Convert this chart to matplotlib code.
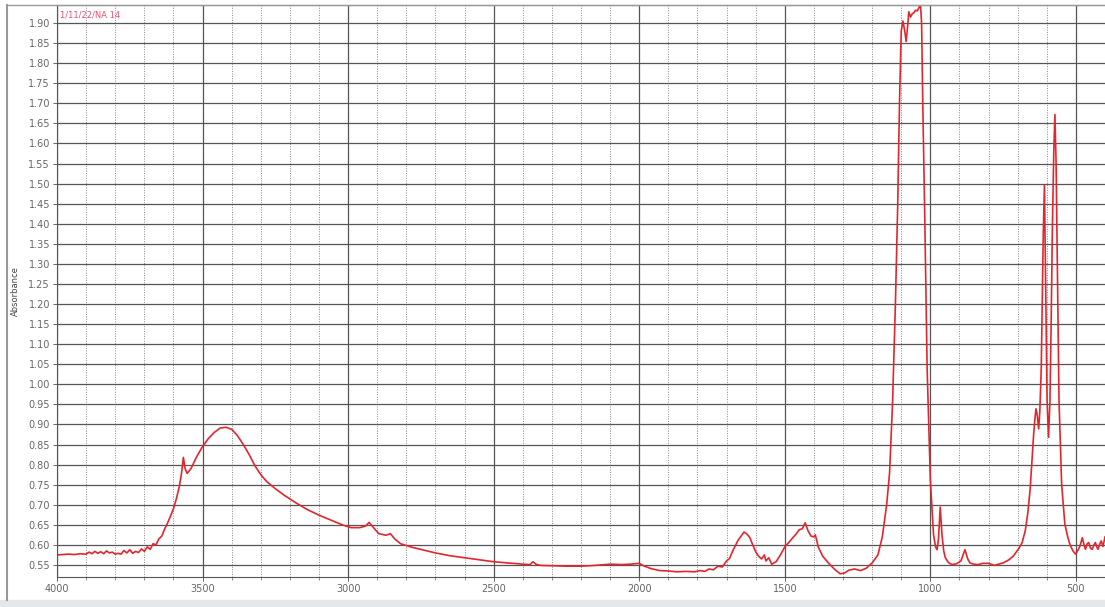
import numpy as np
import matplotlib.pyplot as plt
from matplotlib.ticker import MultipleLocator, FormatStrFormatter
from matplotlib.lines import Line2D

# FTIR spectrum, absorbance vs wavenumber (cm-1)
wavenumber = [
    4000, 3980, 3960, 3940, 3920, 3900, 3890, 3880, 3870, 3860, 3850, 3840,
    3830, 3820, 3810, 3800, 3790, 3780, 3770, 3760, 3750, 3740, 3730, 3720,
    3710, 3700, 3690, 3680, 3670, 3660, 3650, 3640, 3630, 3620, 3610, 3600,
    3590, 3580, 3572, 3566, 3560, 3553, 3540, 3520, 3500, 3480, 3460, 3440,
    3420, 3400, 3380, 3360, 3340, 3320, 3300, 3280, 3250, 3220, 3180, 3140,
    3100, 3060, 3020, 2990, 2960, 2940, 2928, 2915, 2895, 2870, 2855, 2840,
    2820, 2780, 2740, 2700, 2650, 2600, 2550, 2500, 2450, 2400, 2375, 2365,
    2355, 2340, 2300, 2250, 2200, 2150, 2100, 2060, 2030, 2000, 1985, 1960,
    1930, 1900, 1870, 1840, 1810, 1790, 1775, 1760, 1745, 1730, 1715, 1700,
    1690, 1680, 1670, 1660, 1650, 1640, 1630, 1620, 1610, 1600, 1590, 1580,
    1570, 1565, 1555, 1545, 1530, 1515, 1500, 1485, 1470, 1460, 1450, 1440,
    1430, 1420, 1410, 1400, 1395, 1385, 1370, 1350, 1330, 1310, 1295, 1280,
    1260, 1240, 1220, 1200, 1180, 1165, 1150, 1140, 1130, 1120, 1112, 1106,
    1100, 1094, 1088, 1083, 1077, 1074, 1068, 1062, 1056, 1051, 1045, 1040,
    1034, 1030, 1026, 1019, 1011, 1000, 989, 982, 977, 972, 966, 960,
    954, 949, 938, 926, 910, 895, 881, 872, 864, 850, 836, 820,
    800, 780, 766, 750, 732, 715, 697, 685, 674, 665, 657, 650,
    645, 640, 637, 633, 628, 624, 619, 612, 608, 603, 599, 594,
    589, 585, 581, 576, 572, 568, 565, 558, 549, 538, 528, 520,
    510, 501, 492, 486, 478, 472, 467, 461, 456, 450, 444, 438,
    433, 428, 424, 418, 413, 407, 400,
]
absorbance = [
    0.575, 0.576, 0.577, 0.576, 0.578, 0.577, 0.582, 0.578, 0.584, 0.579, 0.583, 0.578,
    0.585, 0.580, 0.582, 0.577, 0.579, 0.577, 0.586, 0.580, 0.588, 0.579, 0.584, 0.581,
    0.590, 0.584, 0.595, 0.589, 0.603, 0.600, 0.615, 0.622, 0.640, 0.655, 0.672, 0.690,
    0.715, 0.745, 0.780, 0.818, 0.790, 0.778, 0.790, 0.820, 0.845, 0.865, 0.880, 0.891,
    0.893, 0.888, 0.872, 0.850, 0.825, 0.797, 0.775, 0.758, 0.740, 0.724, 0.705, 0.688,
    0.674, 0.662, 0.650, 0.643, 0.643, 0.647, 0.656, 0.645, 0.628, 0.624, 0.628, 0.615,
    0.603, 0.594, 0.587, 0.580, 0.573, 0.568, 0.563, 0.558, 0.555, 0.552, 0.551, 0.558,
    0.552, 0.549, 0.548, 0.547, 0.547, 0.549, 0.552, 0.551, 0.552, 0.554, 0.548, 0.541,
    0.536, 0.535, 0.533, 0.534, 0.533, 0.536, 0.534, 0.540, 0.538, 0.547, 0.545, 0.560,
    0.566, 0.583, 0.598, 0.612, 0.622, 0.632, 0.627, 0.618, 0.600, 0.583, 0.572, 0.565,
    0.575, 0.560, 0.568, 0.552, 0.558, 0.575, 0.595, 0.607, 0.620, 0.628, 0.638, 0.640,
    0.655, 0.635, 0.622, 0.620, 0.625, 0.595, 0.572, 0.555, 0.540, 0.528, 0.530, 0.537,
    0.540, 0.536, 0.542, 0.555, 0.575, 0.620, 0.700, 0.780, 0.950, 1.200, 1.450, 1.700,
    1.880, 1.905, 1.880, 1.854, 1.900, 1.928, 1.915, 1.923, 1.926, 1.932, 1.930, 1.937,
    1.946, 1.900, 1.700, 1.410, 1.040, 0.763, 0.625, 0.595, 0.588, 0.615, 0.694, 0.625,
    0.585, 0.569, 0.556, 0.551, 0.553, 0.560, 0.588, 0.566, 0.555, 0.552, 0.551, 0.554,
    0.554, 0.549, 0.552, 0.555, 0.562, 0.572, 0.590, 0.605, 0.635, 0.680, 0.740, 0.820,
    0.877, 0.920, 0.939, 0.925, 0.889, 0.930, 1.040, 1.377, 1.497, 1.210, 0.960, 0.868,
    0.960, 1.150, 1.377, 1.580, 1.672, 1.550, 1.377, 0.960, 0.752, 0.652, 0.620, 0.600,
    0.585, 0.577, 0.588, 0.597, 0.618, 0.600, 0.589, 0.603, 0.606, 0.592, 0.589, 0.600,
    0.606, 0.594, 0.589, 0.602, 0.610, 0.596, 0.620,
]

fig = plt.figure(figsize=(11.05, 6.07), dpi=100)
ax = fig.add_axes([0.0516, 0.0494, 0.9484, 0.9424])

ax.plot(wavenumber, absorbance, color='#e3262e', lw=1.2)

ax.set_xlim(4000, 400)
ax.set_ylim(0.52, 1.945)

ax.xaxis.set_major_locator(MultipleLocator(500))
ax.xaxis.set_minor_locator(MultipleLocator(100))
ax.yaxis.set_major_locator(MultipleLocator(0.05))
ax.yaxis.set_major_formatter(FormatStrFormatter('%.2f'))

ax.grid(which='major', axis='both', color='#555555', lw=0.9, ls='-')
ax.grid(which='minor', axis='x', color='#888888', lw=0.7, ls=(0, (1, 1.5)))
ax.set_axisbelow(True)

ax.tick_params(which='major', length=3, width=0.7, color='#666666',
               labelsize=7, labelcolor='#666666', pad=2)
ax.tick_params(which='minor', length=2, width=0.6, color='#777777')

for side in ['left', 'bottom', 'top']:
    ax.spines[side].set_color('#555555')
    ax.spines[side].set_linewidth(0.8)
ax.spines['right'].set_visible(False)

ax.set_xlabel('Wavenumbers (cm-1)', fontsize=6, color='#444444', labelpad=4)
ax.set_ylabel('Absorbance', fontsize=6, color='#444444', labelpad=6)

ax.text(0.003, 0.99, '1/11/22/NA 14', transform=ax.transAxes, fontsize=6,
        color='#e8506a', va='top', ha='left')

# window border and bottom strip
fig.add_artist(Line2D([0.0063, 0.0063], [0.012, 0.9918], color='#999999', lw=1.5))
fig.add_artist(Line2D([0.0063, 1.0], [0.9918, 0.9918], color='#999999', lw=1.0))
fig.patches.append(plt.Rectangle((0, 0), 1, 0.012, transform=fig.transFigure,
                                 color='#e3e8ec', zorder=0))

fig.savefig('out.png', dpi=100)
